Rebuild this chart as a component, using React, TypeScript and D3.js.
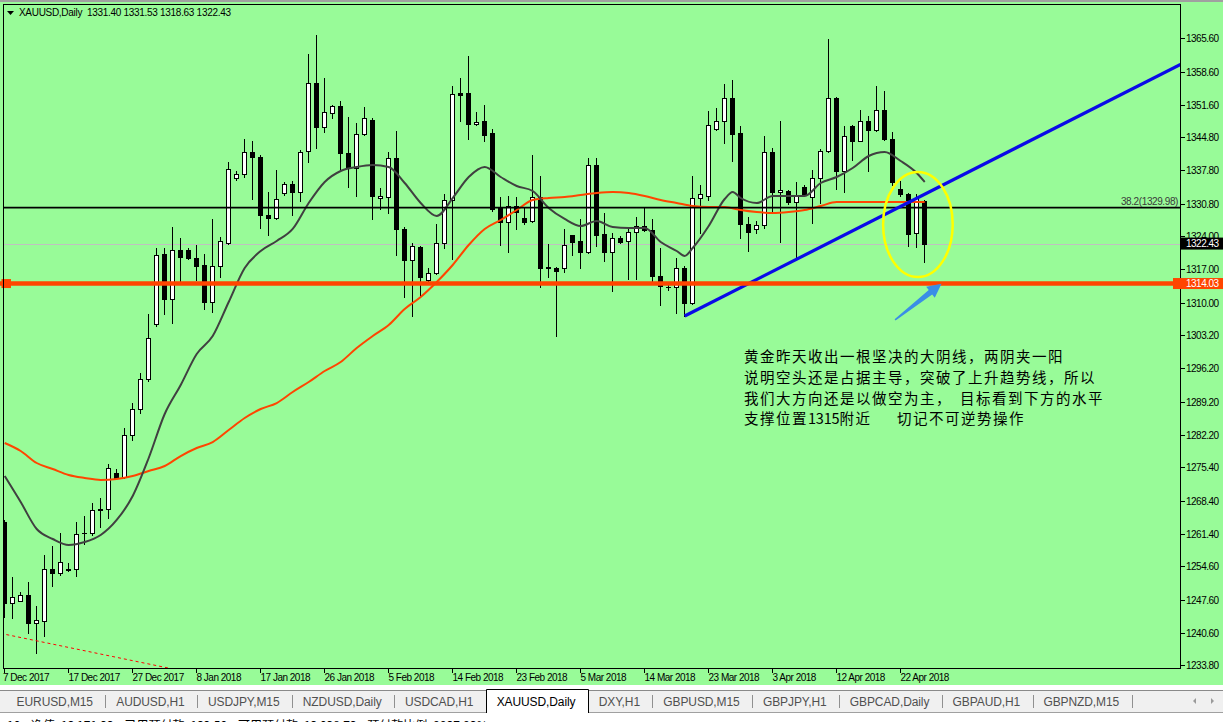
import React, { useEffect, useRef } from 'react';
import * as d3 from 'd3';

const symbol = 'XAUUSD,Daily';

// daily bars, 7 Dec 2017 .. 25 Apr 2018 (broker feed with Sunday bars)
const opens = [
  1263.9, 1246.85, 1247.3, 1248.5, 1242.6, 1243.1, 1254.0, 1253.2, 1253.9, 1254.0,
  1261.5, 1261.6, 1266.4, 1266.6, 1274.2, 1273.4, 1282.2, 1287.7, 1294.0, 1305.6,
  1320.3, 1310.8, 1321.0, 1321.0, 1319.3, 1318.0, 1310.2, 1317.8, 1322.6, 1336.3,
  1337.0, 1341.6, 1340.7, 1328.5, 1327.9, 1333.0, 1334.9, 1333.2, 1341.8, 1356.1,
  1346.9, 1349.8, 1351.3, 1341.4, 1338.4, 1345.4, 1348.5, 1332.1, 1332.3, 1340.5,
  1325.4, 1318.9, 1321.8, 1314.85, 1316.3, 1322.6, 1331.5, 1354.0, 1354.0, 1347.5,
  1348.1, 1345.6, 1330.2, 1326.9, 1330.4, 1327.9, 1327.1, 1332.3, 1317.6, 1317.4,
  1317.2, 1324.3, 1323.05, 1320.75, 1339.05, 1324.5, 1320.75, 1323.5, 1323.05, 1324.95,
  1326.2, 1325.2, 1315.7, 1313.2, 1313.2, 1317.2, 1310.0, 1332.1, 1332.5, 1346.6,
  1348.1, 1352.95, 1345.6, 1326.65, 1325.6, 1326.4, 1341.6, 1333.2, 1333.4, 1331.2,
  1334.4, 1332.3, 1336.3, 1341.8, 1352.95, 1337.6, 1347.1, 1344.1, 1348.1, 1346.4,
  1350.6, 1344.5, 1334.0, 1332.95, 1324.75, 1331.4,
];
const highs = [
  1264.3, 1252.3, 1249.2, 1251.3, 1246.2, 1257.0, 1258.9, 1261.6, 1255.3, 1263.9,
  1265.2, 1267.9, 1269.0, 1276.1, 1275.1, 1283.7, 1289.0, 1295.3, 1307.7, 1321.6,
  1321.6, 1326.0, 1323.5, 1321.4, 1322.2, 1320.3, 1327.7, 1323.9, 1339.5, 1337.6,
  1344.5, 1344.1, 1341.0, 1333.2, 1338.0, 1335.3, 1335.5, 1342.0, 1362.2, 1366.2,
  1357.2, 1351.5, 1352.5, 1349.0, 1347.7, 1351.1, 1348.75, 1334.2, 1341.6, 1346.2,
  1326.0, 1322.6, 1322.0, 1317.2, 1326.6, 1332.95, 1355.5, 1357.2, 1361.8, 1350.0,
  1351.5, 1346.6, 1332.3, 1332.5, 1332.3, 1330.2, 1340.96, 1336.7, 1322.4, 1317.6,
  1325.4, 1324.3, 1327.7, 1340.5, 1340.5, 1328.96, 1324.75, 1324.1, 1326.0, 1328.1,
  1330.0, 1327.5, 1321.6, 1314.0, 1319.3, 1317.8, 1336.7, 1334.85, 1350.2, 1350.85,
  1355.9, 1356.75, 1347.1, 1328.1, 1327.1, 1345.0, 1342.6, 1348.1, 1333.6, 1335.3,
  1334.85, 1338.0, 1342.4, 1365.4, 1353.2, 1347.1, 1347.3, 1350.6, 1349.2, 1355.5,
  1354.6, 1345.8, 1335.5, 1333.1, 1332.75, 1331.53,
];
const lows = [
  1243.9, 1243.7, 1247.3, 1240.5, 1236.3, 1239.9, 1250.4, 1252.7, 1253.6, 1252.5,
  1259.3, 1261.2, 1262.9, 1264.7, 1273.2, 1273.2, 1281.2, 1286.85, 1293.6, 1305.0,
  1307.7, 1305.8, 1314.6, 1319.1, 1314.85, 1308.7, 1308.1, 1315.5, 1322.4, 1335.9,
  1336.5, 1331.9, 1325.8, 1324.3, 1327.7, 1332.7, 1328.5, 1331.3, 1339.5, 1342.6,
  1345.8, 1348.75, 1338.0, 1334.4, 1332.5, 1345.2, 1327.5, 1329.6, 1328.96, 1320.1,
  1311.3, 1307.1, 1311.3, 1314.6, 1316.1, 1321.6, 1319.1, 1348.3, 1344.5, 1347.3,
  1343.9, 1329.2, 1322.2, 1320.75, 1325.6, 1326.6, 1326.9, 1313.2, 1315.5, 1302.9,
  1316.5, 1320.1, 1317.4, 1320.5, 1322.0, 1318.85, 1312.5, 1322.6, 1315.06, 1315.06,
  1325.0, 1314.6, 1309.6, 1312.75, 1307.9, 1307.3, 1309.8, 1324.75, 1331.5, 1346.4,
  1343.5, 1339.7, 1323.5, 1320.95, 1324.75, 1325.8, 1329.2, 1322.85, 1330.75, 1319.7,
  1332.5, 1326.85, 1331.05, 1341.6, 1334.0, 1333.2, 1339.9, 1343.9, 1337.6, 1346.2,
  1344.3, 1334.85, 1332.5, 1322.0, 1321.8, 1318.63,
];
const closes = [
  1246.85, 1248.1, 1248.5, 1242.6, 1243.3, 1254.0, 1253.2, 1255.5, 1254.0, 1261.4,
  1261.6, 1266.4, 1266.6, 1275.3, 1273.2, 1282.2, 1287.7, 1294.0, 1302.6, 1320.1,
  1310.8, 1321.0, 1319.7, 1319.3, 1317.8, 1310.2, 1317.8, 1322.9, 1338.2, 1337.0,
  1341.6, 1340.7, 1328.5, 1327.9, 1331.7, 1334.9, 1333.2, 1341.6, 1356.1, 1346.9,
  1350.0, 1351.3, 1341.4, 1338.4, 1345.4, 1348.75, 1332.5, 1332.5, 1340.5, 1325.4,
  1318.9, 1322.0, 1315.5, 1316.3, 1322.6, 1331.5, 1353.8, 1353.6, 1347.5, 1347.9,
  1345.2, 1329.8, 1326.9, 1330.4, 1329.0, 1326.9, 1332.3, 1317.4, 1317.2, 1316.75,
  1322.2, 1322.85, 1320.75, 1339.05, 1324.3, 1320.75, 1323.5, 1322.85, 1324.95, 1326.2,
  1325.2, 1315.7, 1313.6, 1313.2, 1317.2, 1310.0, 1332.1, 1332.75, 1347.3, 1348.1,
  1352.95, 1345.4, 1326.65, 1324.95, 1326.4, 1341.6, 1333.2, 1333.6, 1331.2, 1332.5,
  1332.75, 1336.3, 1341.8, 1352.95, 1337.6, 1345.0, 1343.9, 1348.1, 1346.4, 1350.6,
  1344.5, 1335.3, 1332.75, 1324.5, 1332.1, 1322.43,
];

// axis labels (one date label every 8 bars)
const dateLabels = [
  '7 Dec 2017', '17 Dec 2017', '27 Dec 2017', '8 Jan 2018', '17 Jan 2018', '26 Jan 2018',
  '5 Feb 2018', '14 Feb 2018', '23 Feb 2018', '5 Mar 2018', '14 Mar 2018', '23 Mar 2018',
  '3 Apr 2018', '12 Apr 2018', '22 Apr 2018',
];
const dateStep = 8;
const priceLabels = [
  1365.6, 1358.6, 1351.6, 1344.8, 1337.8, 1330.8, 1324.0, 1317.0, 1310.0, 1303.2,
  1296.2, 1289.2, 1282.2, 1275.4, 1268.4, 1261.4, 1254.6, 1247.6, 1240.6, 1233.8,
];

// moving averages: [bar index, price]
const maFast: [number, number][] = [
  [0, 1273.57], [2, 1268.1], [4, 1262.42], [6, 1260.32], [8, 1259.06], [10, 1259.69],
  [12, 1261.16], [14, 1264.32], [16, 1269.36], [18, 1277.35], [20, 1286.6], [22, 1292.7],
  [24, 1299.22], [26, 1303.0], [28, 1310.15], [30, 1317.3], [32, 1320.87], [34, 1322.97],
  [36, 1325.5], [38, 1330.96], [40, 1335.38], [42, 1337.69], [44, 1338.53], [46, 1338.95],
  [48, 1338.53], [50, 1335.17], [52, 1330.96], [54, 1328.23], [56, 1332.01], [58, 1336.43],
  [60, 1338.53], [62, 1336.43], [64, 1334.54], [66, 1333.48], [68, 1329.91], [70, 1327.6],
  [72, 1326.13], [74, 1327.18], [76, 1325.92], [78, 1325.71], [80, 1325.71], [82, 1322.76],
  [84, 1320.87], [85, 1319.82], [86, 1321.5], [88, 1326.13], [90, 1331.8], [91, 1333.27],
  [92, 1332.01], [94, 1330.96], [96, 1332.43], [98, 1332.43], [100, 1332.43], [102, 1335.17],
  [104, 1336.43], [106, 1338.32], [108, 1340.84], [110, 1341.68], [112, 1339.79],
  [114, 1337.27], [115, 1335.38],
];
const maSlow: [number, number][] = [
  [0, 1280.5], [2, 1278.82], [4, 1276.3], [6, 1275.04], [8, 1273.78], [10, 1273.15],
  [12, 1272.73], [14, 1272.94], [16, 1273.57], [18, 1274.62], [20, 1275.67], [22, 1277.77],
  [24, 1279.45], [26, 1280.71], [28, 1283.24], [30, 1285.76], [32, 1287.65], [34, 1288.91],
  [36, 1291.23], [38, 1293.33], [40, 1295.64], [42, 1297.53], [44, 1300.48], [46, 1303.0],
  [48, 1305.31], [50, 1308.68], [52, 1311.2], [54, 1314.35], [56, 1317.93], [58, 1322.13],
  [60, 1325.5], [62, 1327.39], [64, 1329.49], [66, 1331.59], [68, 1332.01], [70, 1332.22],
  [72, 1332.64], [74, 1333.06], [76, 1333.27], [78, 1333.06], [80, 1332.43], [82, 1331.59],
  [84, 1330.96], [86, 1330.33], [88, 1330.12], [90, 1330.12], [92, 1329.49], [94, 1329.07],
  [96, 1328.86], [98, 1329.07], [100, 1329.49], [102, 1330.33], [104, 1331.17],
  [106, 1331.17], [110, 1331.17], [115, 1331.17],
];

// objects drawn on the chart (bar index / price)
const fibLevel = 1329.98;
const fibLabel = '38.2(1329.98)';
const supportLevel = 1314.03;
const trendAnchors = [{ i: 85, p: 1307.2 }, { i: 113, p: 1331.1 }];
const dashAnchors = [{ i: 0, p: 1240.3 }, { i: 20, p: 1233.35 }];
const ellipseBox = { i0: 109.8, i1: 118.5, p0: 1315.4, p1: 1337.5 };
const arrowFrom = { i: 111.3, p: 1306.4 };
const arrowTo = { i: 117.1, p: 1314.0 };

const noteLines = [
  ['黄金昨天收出一根坚决的大阴线，两阴夹一阳'],
  ['说明空头还是占据主导，突破了上升趋势线，所以'],
  ['我们大方向还是以做空为主，', '目标看到下方的水平'],
  ['支撑位置1315附近', '切记不可逆势操作'],
];

const tabs = [
  'EURUSD,M15', 'AUDUSD,H1', 'USDJPY,M15', 'NZDUSD,Daily', 'USDCAD,H1', 'XAUUSD,Daily',
  'DXY,H1', 'GBPUSD,M15', 'GBPJPY,H1', 'GBPCAD,Daily', 'GBPAUD,H1', 'GBPNZD,M15',
];
const statusText = '10    净值: 13 171.23    已用预付款: 132.50    可用预付款: 13 038.73    预付款比例: 9937.93%';

const LATIN = '"Liberation Sans", Arial, sans-serif';
const CJK = '"Noto Sans CJK SC", sans-serif';

const App: React.FC = () => {
  const svgRef = useRef<SVGSVGElement>(null);

  useEffect(() => {
    if (!svgRef.current) return;
    const svg = d3.select(svgRef.current);
    svg.selectAll('*').remove();

    const W = 1223;
    const left = 3.5, top = 4.5, right = 1180.5, bottom = 668.5;
    const n = opens.length;
    const last = n - 1;

    const x = d3.scaleLinear().domain([0, n - 1]).range([4.7, 924.7]);
    const y = d3.scaleLinear().domain([1233.2, 1372.8]).range([668, 4]);
    const crisp = (v: number) => Math.round(v) + 0.5;
    const along = (a: { i: number; p: number }, b: { i: number; p: number }, i: number) =>
      a.p + ((b.p - a.p) * (i - a.i)) / (b.i - a.i);

    // background
    svg.append('rect').attr('width', W).attr('height', 685).attr('fill', '#98FB98');
    svg.append('rect').attr('width', W).attr('height', 2).attr('fill', '#a0a0a0');
    svg.append('rect').attr('y', 685).attr('width', W).attr('height', 37).attr('fill', '#ffffff');

    svg.append('defs').append('clipPath').attr('id', 'plotClip').append('rect')
      .attr('x', left).attr('y', top).attr('width', right - left).attr('height', bottom - top);
    const plot = svg.append('g').attr('clip-path', 'url(#plotClip)');

    // bid line
    const bidY = crisp(y(closes[last]));
    plot.append('line').attr('x1', left).attr('x2', right).attr('y1', bidY).attr('y2', bidY)
      .attr('stroke', '#c0c0c0').attr('shape-rendering', 'crispEdges');

    // candles
    const idx = d3.range(n);
    const cg = plot.append('g').attr('shape-rendering', 'crispEdges');
    cg.selectAll('line.wick').data(idx).join('line').attr('class', 'wick')
      .attr('x1', i => Math.floor(x(i)) + 0.5).attr('x2', i => Math.floor(x(i)) + 0.5)
      .attr('y1', i => Math.round(y(highs[i]))).attr('y2', i => Math.round(y(lows[i])) + 1)
      .attr('stroke', '#000');
    idx.forEach(i => {
      const o = opens[i], c = closes[i];
      const yt = Math.round(y(Math.max(o, c)));
      const yb = Math.round(y(Math.min(o, c)));
      const cx = Math.floor(x(i));
      if (yb - yt < 1) {
        cg.append('line').attr('x1', cx - 2).attr('x2', cx + 3)
          .attr('y1', yt + 0.5).attr('y2', yt + 0.5).attr('stroke', '#000');
      } else {
        cg.append('rect').attr('x', cx - 1.5).attr('y', yt + 0.5).attr('width', 4).attr('height', yb - yt)
          .attr('fill', c >= o ? '#ffffff' : '#000000').attr('stroke', '#000');
      }
    });

    // moving averages
    const maLine = d3.line<[number, number]>().x(d => x(d[0])).y(d => y(d[1])).curve(d3.curveMonotoneX);
    plot.append('path').datum(maSlow).attr('d', maLine).attr('fill', 'none')
      .attr('stroke', '#FF4500').attr('stroke-width', 2);
    plot.append('path').datum(maFast).attr('d', maLine).attr('fill', 'none')
      .attr('stroke', '#404040').attr('stroke-width', 2);

    // red dashed line at the bottom left
    const [da, db] = dashAnchors;
    plot.append('line')
      .attr('x1', x(-2)).attr('y1', y(along(da, db, -2)))
      .attr('x2', x(40)).attr('y2', y(along(da, db, 40)))
      .attr('stroke', '#ff0000').attr('stroke-width', 1).attr('stroke-dasharray', '3,3');

    // fibo 38.2 level
    plot.append('line').attr('x1', left).attr('x2', right)
      .attr('y1', y(fibLevel)).attr('y2', y(fibLevel)).attr('stroke', '#000').attr('stroke-width', 1.7);
    svg.append('text').attr('x', 1178).attr('y', y(fibLevel) - 2.8).attr('text-anchor', 'end')
      .style('font-family', LATIN).style('font-size', '10px').style('letter-spacing', '-0.4px')
      .attr('fill', '#3a3a3a').text(fibLabel);

    // rising trend line (ray)
    const [ta, tb] = trendAnchors;
    const iEnd = x.invert(right);
    plot.append('line')
      .attr('x1', x(ta.i)).attr('y1', y(ta.p))
      .attr('x2', x(iEnd)).attr('y2', y(along(ta, tb, iEnd)))
      .attr('stroke', '#0a0ae8').attr('stroke-width', 3.2);

    // support line
    const sy = y(supportLevel);
    svg.append('line').attr('x1', 0).attr('x2', right).attr('y1', sy).attr('y2', sy)
      .attr('stroke', '#FF4500').attr('stroke-width', 4.5);
    svg.append('rect').attr('x', 1.5).attr('y', sy - 4.5).attr('width', 9.5).attr('height', 9)
      .attr('fill', '#FF4500');

    // yellow ellipse
    const ex0 = x(ellipseBox.i0), ex1 = x(ellipseBox.i1);
    const ey0 = y(ellipseBox.p1), ey1 = y(ellipseBox.p0);
    svg.append('ellipse').attr('cx', (ex0 + ex1) / 2).attr('cy', (ey0 + ey1) / 2)
      .attr('rx', (ex1 - ex0) / 2).attr('ry', (ey1 - ey0) / 2)
      .attr('fill', 'none').attr('stroke', '#FFFF00').attr('stroke-width', 2.5);

    // blue arrow
    const t0 = [x(arrowFrom.i), y(arrowFrom.p)];
    const h0 = [x(arrowTo.i), y(arrowTo.p)];
    const len = Math.hypot(h0[0] - t0[0], h0[1] - t0[1]);
    const ux = (h0[0] - t0[0]) / len, uy = (h0[1] - t0[1]) / len;
    const nx = -uy, ny = ux;
    const bx = h0[0] - ux * 14, by = h0[1] - uy * 14;
    const pt = (px: number, py: number, s: number) => `${px + nx * s},${py + ny * s}`;
    svg.append('polygon')
      .attr('points', [
        pt(t0[0], t0[1], 0.8), pt(bx, by, 2.8), pt(bx, by, 7), `${h0[0]},${h0[1]}`,
        pt(bx, by, -7), pt(bx, by, -2.8), pt(t0[0], t0[1], -0.8),
      ].join(' '))
      .attr('fill', '#3a8ee6');

    // frame
    svg.append('rect').attr('x', left).attr('y', top).attr('width', right - left).attr('height', bottom - top)
      .attr('fill', 'none').attr('stroke', '#000').attr('shape-rendering', 'crispEdges');

    // price axis
    const pa = svg.append('g').style('font-family', LATIN).style('font-size', '10px').style('letter-spacing', '-0.5px');
    priceLabels.forEach(p => {
      const yy = crisp(y(p));
      pa.append('line').attr('x1', right).attr('x2', right + 4).attr('y1', yy).attr('y2', yy)
        .attr('stroke', '#000').attr('shape-rendering', 'crispEdges');
      pa.append('text').attr('x', 1186).attr('y', yy).attr('dy', '0.35em').attr('fill', '#000').text(p.toFixed(2));
    });
    const bidRaw = y(closes[last]);
    pa.append('rect').attr('x', 1181).attr('y', bidRaw - 6).attr('width', 42).attr('height', 12).attr('fill', '#000');
    pa.append('text').attr('x', 1186).attr('y', bidRaw).attr('dy', '0.35em').attr('fill', '#fff')
      .text(closes[last].toFixed(2));
    pa.append('rect').attr('x', 1173).attr('y', sy - 5.5).attr('width', 50).attr('height', 11).attr('fill', '#FF4500');
    pa.append('text').attr('x', 1186).attr('y', sy).attr('dy', '0.35em').attr('fill', '#fff')
      .text(supportLevel.toFixed(2));

    // date axis
    const da2 = svg.append('g').style('font-family', LATIN).style('font-size', '10px').style('letter-spacing', '-0.5px');
    dateLabels.forEach((lbl, k) => {
      const xx = Math.floor(x(k * dateStep)) + 0.5;
      da2.append('line').attr('x1', xx).attr('x2', xx).attr('y1', bottom).attr('y2', bottom + 4)
        .attr('stroke', '#000').attr('shape-rendering', 'crispEdges');
      da2.append('text').attr('x', k === 0 ? 3 : xx).attr('y', 681).attr('fill', '#000').text(lbl);
    });

    // header
    svg.append('polygon').attr('points', '7,11 14,11 10.5,15').attr('fill', '#000');
    svg.append('text').attr('x', 19).attr('y', 16).attr('xml:space', 'preserve')
      .style('white-space', 'pre').style('font-family', LATIN).style('font-size', '10px')
      .style('letter-spacing', '-0.3px').attr('fill', '#000')
      .text(`${symbol}  ${[opens[last], highs[last], lows[last], closes[last]].map(v => v.toFixed(2)).join(' ')}`);

    // note (CJK glyphs on a 16px pitch, digits narrower)
    const note = svg.append('g').style('font-family', CJK).style('font-size', '14.5px').attr('fill', '#000');
    const baselines = [362, 383, 404, 424];
    const secondX = [0, 0, 960, 897];
    noteLines.forEach((segs, k) => {
      const t = note.append('text').attr('y', baselines[k]);
      segs.forEach((seg, s) => {
        const runs = seg.match(/[0-9]+|[^0-9]+/g) || [];
        runs.forEach((run, r) => {
          const ts = t.append('tspan').text(run)
            .style('letter-spacing', /[0-9]/.test(run) ? '-0.2px' : '1.5px');
          if (r === 0) ts.attr('x', s === 0 ? 744 : secondX[k]);
        });
      });
    });

    // tab bar
    svg.append('rect').attr('y', 690).attr('width', W).attr('height', 22).attr('fill', '#f0f0f0');
    svg.append('line').attr('x1', 0).attr('x2', W).attr('y1', 690.5).attr('y2', 690.5)
      .attr('stroke', '#8a8a8a');
    svg.append('line').attr('x1', 0).attr('x2', W).attr('y1', 712.5).attr('y2', 712.5)
      .attr('stroke', '#a0a0a0');
    const tabBg = svg.append('g');
    const tabTx = svg.append('g').style('font-family', LATIN).style('font-size', '12px').style('letter-spacing', '-0.1px');
    let cursor = 16.6;
    const seps: number[] = [];
    let activeRange: [number, number] | null = null;
    tabs.forEach(name => {
      const isActive = name === symbol;
      const t = tabTx.append('text').attr('x', cursor).attr('y', 706)
        .attr('fill', isActive ? '#000' : '#505050').text(name);
      const w = (t.node() as SVGTextElement).getComputedTextLength();
      const sep = cursor + w + 12.5;
      if (isActive) activeRange = [cursor - 10.8, sep];
      seps.push(sep);
      cursor = sep + 10.8;
    });
    seps.forEach(s => {
      if (activeRange && (Math.abs(s - activeRange[0]) < 1 || Math.abs(s - activeRange[1]) < 1)) return;
      tabBg.append('line').attr('x1', Math.round(s) + 0.5).attr('x2', Math.round(s) + 0.5)
        .attr('y1', 695).attr('y2', 708).attr('stroke', '#909090');
    });
    if (activeRange) {
      const [a0, a1] = activeRange;
      tabBg.append('path')
        .attr('d', `M${Math.round(a0) + 0.5},713 V689.5 H${Math.round(a1) + 0.5} V713`)
        .attr('fill', '#ffffff').attr('stroke', '#000');
    }
    svg.append('polygon').attr('points', '1196,698 1196,704 1193,701').attr('fill', '#9a9a9a');
    svg.append('polygon').attr('points', '1211,698 1211,704 1214,701').attr('fill', '#9a9a9a');

    // status bar (cut off at the bottom)
    svg.append('text').attr('x', 7).attr('y', 730).attr('xml:space', 'preserve')
      .style('white-space', 'pre').style('font-family', CJK).style('font-size', '12px')
      .attr('fill', '#000').text(statusText);
  }, []);

  return (
    <div style={{ position: 'absolute', left: 0, top: 0 }}>
      <svg ref={svgRef} width={1223} height={722} style={{ display: 'block' }} />
    </div>
  );
};

export default App;
